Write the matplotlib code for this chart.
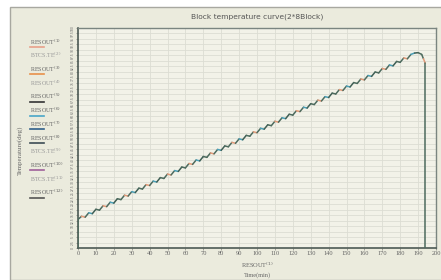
import matplotlib
matplotlib.use("Agg")
import matplotlib.pyplot as plt
from matplotlib.patches import Rectangle
from matplotlib.lines import Line2D

# ---- data ----
times = [0, 0, 2, 4, 6, 8, 10, 12, 14, 16, 18, 20, 22, 24, 26, 28, 30, 32, 34, 36, 38,
         40, 42, 44, 46, 48, 50, 52, 54, 56, 58, 60, 62, 64, 66, 68, 70, 72, 74, 76, 78,
         80, 82, 84, 86, 88, 90, 92, 94, 96, 98, 100, 102, 104, 106, 108, 110, 112, 114,
         116, 118, 120, 122, 124, 126, 128, 130, 132, 134, 136, 138, 140, 142, 144, 146,
         148, 150, 152, 154, 156, 158, 160, 162, 164, 166, 168, 170, 172, 174, 176, 178,
         180, 182, 184, 186, 188, 190, 192, 193, 194, 194]
temps = [0.0, 13.0, 14.4, 14.0, 16.0, 15.6, 17.6, 17.2, 19.2, 18.8, 20.8, 20.4, 22.4, 22.0,
         24.0, 23.6, 25.6, 25.2, 27.2, 26.8, 28.8, 28.4, 30.4, 30.0, 32.0, 31.6, 33.6, 33.2,
         35.2, 34.8, 36.8, 36.4, 38.4, 38.0, 40.0, 39.6, 41.6, 41.2, 43.2, 42.8, 44.8, 44.4,
         46.4, 46.0, 48.0, 47.6, 49.6, 49.2, 51.2, 50.8, 52.8, 52.4, 54.4, 54.0, 56.0, 55.6,
         57.6, 57.2, 59.2, 58.8, 60.8, 60.4, 62.4, 62.0, 64.0, 63.6, 65.6, 65.2, 67.2, 66.8,
         68.8, 68.4, 70.4, 70.0, 72.0, 71.6, 73.6, 73.2, 75.2, 74.8, 76.8, 76.4, 78.4, 78.0,
         80.0, 79.6, 81.6, 81.2, 83.2, 82.8, 84.8, 84.4, 86.4, 86.0, 88.0, 88.6, 88.8, 88.0,
         86.0, 84.0, 0.0]
legend_labels = ["RESOUT$^{(1)}$", "BTCS.TE$^{(2)}$", "RESOUT$^{(3)}$", "RESOUT$^{(4)}$",
                 "RESOUT$^{(5)}$", "RESOUT$^{(6)}$", "RESOUT$^{(7)}$", "RESOUT$^{(8)}$",
                 "BTCS.TE$^{(9)}$", "RESOUT$^{(10)}$", "BTCS.TE$^{(11)}$", "RESOUT$^{(12)}$"]
legend_colors = ["#e8a08a", None, "#e8904a", None, "#333333", "#4aa6c8",
                 "#2f5f8a", "#3c4c55", None, "#a0609a", None, "#555555"]
x_ticks = list(range(0, 201, 10))
title = "Block temperature curve(2*8Block)"
x_label = "RESOUT$^{(1)}$\nTime(min)"
y_label = "Temperature(deg)"

# ---- figure ----
W, H = 441, 280
fig = plt.figure(figsize=(W / 100, H / 100), dpi=100, facecolor="white")
fig.patches.append(Rectangle((10 / W, 0), 1.0, (H - 7) / H, transform=fig.transFigure,
                             facecolor="#ebebdd", edgecolor="#a8a8a0", lw=1.0, zorder=-5))

ax = fig.add_axes([78 / W, 32 / H, 358 / W, 220 / H], zorder=2)
ax.set_facecolor("#f2f2e8")

seg_colors = ["#4d6b5e", "#4d6b5e", "#e39a78", "#4d6b5e", "#4aa0b8", "#3f5f55"]
for i in range(len(times) - 1):
    ax.plot(times[i:i + 2], temps[i:i + 2], color=seg_colors[i % len(seg_colors)],
            lw=1.1, solid_capstyle="round", zorder=3)

ax.set_xlim(0, 200)
ax.set_ylim(0, 100)
ax.set_xticks(x_ticks)
ax.set_xticklabels([str(t) for t in x_ticks], fontsize=4.6, color="#6a6a6a",
                   family="Liberation Serif")
ax.set_yticks([v * 2.5 for v in range(41)])
ax.set_yticklabels(["%g" % (v * 2.5) for v in range(41)], fontsize=2.2, color="#777777",
                   rotation=90, va="center")
ax.tick_params(axis="both", length=1.5, width=0.4, pad=1, colors="#666666")
ax.grid(True, color="#dcddd3", lw=0.6)
for s in ["left", "bottom"]:
    ax.spines[s].set_color("#4d5a55")
    ax.spines[s].set_linewidth(1.2)
for s in ["top", "right"]:
    ax.spines[s].set_color("#7a8580")
    ax.spines[s].set_linewidth(1.0)

fig.text(257 / W, 1 - 17 / H, title, ha="center", va="center", fontsize=5.4, color="#555555")
ax.set_xlabel(x_label, fontsize=4.6, color="#666666", family="Liberation Serif", labelpad=3,
              linespacing=1.6)
fig.text(20 / W, 1 - 150 / H, y_label, rotation=90, ha="center", va="center", fontsize=5,
         color="#666666", family="Liberation Serif")

# legend column on the left
for k, (lab, col) in enumerate(zip(legend_labels, legend_colors)):
    yy = 1 - (42 + k * 13.7) / H
    fig.text(30 / W, yy, lab, fontsize=4.3, ha="left", va="center",
             color="#666666" if col else "#999999", family="Liberation Serif")
    if col:
        fig.lines.append(Line2D([30 / W, 44 / W], [yy - 5 / H, yy - 5 / H],
                                transform=fig.transFigure, color=col, lw=1.2))

fig.savefig("out.png", dpi=100, facecolor=fig.get_facecolor())
